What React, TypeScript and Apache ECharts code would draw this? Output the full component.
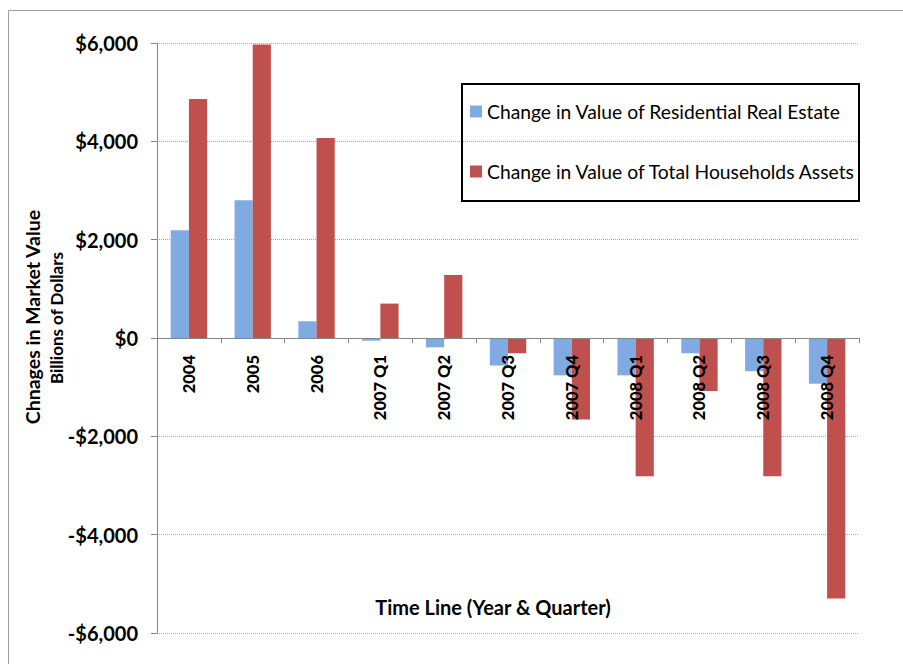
import React, { useEffect, useRef } from "react";
import * as echarts from "echarts";

const categories = ["2004", "2005", "2006", "2007 Q1", "2007 Q2", "2007 Q3", "2007 Q4", "2008 Q1", "2008 Q2", "2008 Q3", "2008 Q4"];
const residential = [2190, 2800, 340, -55, -190, -560, -760, -760, -310, -675, -930];
const totalAssets = [4860, 5970, 4070, 700, 1280, -310, -1660, -2810, -1080, -2810, -5300];
const seriesNames = ["Change in Value of Residential Real Estate", "Change in Value of Total Households Assets"];
const yTicks = [-6000, -4000, -2000, 0, 2000, 4000, 6000];

const FONT = "Lato, 'Open Sans', sans-serif";

function fmt(v: number): string {
  const s = "$" + Math.abs(v).toLocaleString("en-US");
  return v < 0 ? "-" + s : s;
}

export default function App() {
  const ref = useRef<HTMLDivElement>(null);
  useEffect(() => {
    if (!ref.current) return;
    const chart = echarts.init(ref.current, null, { renderer: "svg" });
    chart.setOption({
      animation: false,
      backgroundColor: "#ffffff",
      grid: { left: 157, top: 43, right: 44, bottom: 31, containLabel: false, outerBoundsMode: "none" },
      legend: {
        orient: "vertical",
        left: 465,
        top: 97,
        itemWidth: 12,
        itemHeight: 12,
        itemGap: 41,
        icon: "rect",
        data: seriesNames,
        textStyle: { fontFamily: FONT, fontSize: 19.3, color: "#000" },
      },
      xAxis: {
        type: "category",
        data: categories,
        position: "bottom",
        offset: -295,
        z: 10,
        axisLine: { onZero: false, lineStyle: { color: "#868686", width: 1 } },
        axisTick: { show: true, length: 5, lineStyle: { color: "#868686" } },
        axisLabel: {
          rotate: 90,
          margin: 17,
          fontFamily: FONT,
          fontSize: 16.5,
          fontWeight: 900,
          color: "#000",
          interval: 0,
        },
        splitLine: { show: false },
      },
      yAxis: {
        type: "value",
        min: -6000,
        max: 6000,
        interval: 2000,
        axisLine: { show: true, lineStyle: { color: "#868686", width: 1 } },
        axisTick: { show: true, length: 6, lineStyle: { color: "#868686" } },
        axisLabel: {
          margin: 19,
          fontFamily: FONT,
          fontSize: 20,
          fontWeight: "bold",
          color: "#000",
          formatter: (v: number) => (yTicks.includes(v) ? fmt(v) : ""),
        },
        splitLine: { show: true, lineStyle: { color: "#a6a6a6", type: [1, 1], width: 1 } },
      },
      series: [
        {
          name: seriesNames[0],
          type: "bar",
          data: residential,
          itemStyle: { color: "#80aae2" },
          barGap: "0%",
          barCategoryGap: "43%",
        },
        {
          name: seriesNames[1],
          type: "bar",
          data: totalAssets,
          itemStyle: { color: "#c0504d" },
          barGap: "0%",
          barCategoryGap: "43%",
        },
      ],
      graphic: [
        {
          type: "rect",
          shape: { x: 8.5, y: 10.5, width: 910, height: 700 },
          style: { fill: "none", stroke: "#a0a0a0", lineWidth: 1 },
          silent: true,
        },
        {
          type: "rect",
          shape: { x: 462, y: 84, width: 397, height: 117 },
          style: { fill: "none", stroke: "#000", lineWidth: 2 },
          silent: true,
          z: 10,
        },
        {
          type: "text",
          x: 32,
          y: 317,
          rotation: Math.PI / 2,
          style: {
            text: "Chnages in Market Value",
            font: "bold 19.5px " + FONT,
            fill: "#000",
            align: "center",
            verticalAlign: "middle",
          },
        },
        {
          type: "text",
          x: 56,
          y: 318,
          rotation: Math.PI / 2,
          style: {
            text: "Billions of Dollars",
            font: "bold 17px " + FONT,
            fill: "#000",
            align: "center",
            verticalAlign: "middle",
          },
        },
        {
          type: "text",
          x: 493,
          y: 607,
          style: {
            text: "Time Line (Year & Quarter)",
            font: "bold 20px " + FONT,
            fill: "#000",
            align: "center",
            verticalAlign: "middle",
          },
        },
      ],
    });
    return () => chart.dispose();
  }, []);
  return (
    <div
      ref={ref}
      style={{ position: "absolute", left: 0, top: 0, width: 903, height: 664 }}
    />
  );
}
